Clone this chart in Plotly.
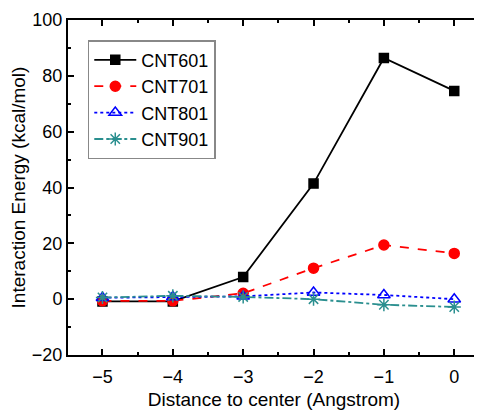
import plotly.graph_objects as go

x = [-5, -4, -3, -2, -1, 0]
cnt601 = [-0.8, -0.8, 7.9, 41.4, 86.4, 74.6]
cnt701 = [-0.6, -0.6, 2.1, 11.1, 19.4, 16.4]
cnt801 = [0.5, 0.8, 1.0, 2.4, 1.5, 0.0]
cnt901 = [0.6, 1.2, 0.8, 0.0, -2.0, -2.8]

series = [
    ("CNT601", cnt601, "black", "solid", "square", 9),
    ("CNT701", cnt701, "red", "dash", "circle", 10),
    ("CNT801", cnt801, "blue", "dot", "triangle-up-open", 11),
    ("CNT901", cnt901, "#2a8f8f", "dashdot", "asterisk-open", 11),
]

fig = go.Figure()
for name, y, c, dash, sym, sz in series:
    fig.add_trace(go.Scatter(
        x=x, y=y, name=name, mode="lines+markers",
        line=dict(color=c, dash=dash, width=1.8),
        marker=dict(symbol=sym, size=sz, color=c, line=dict(color=c, width=1.5)),
    ))

# page body has an 8px margin, so the figure is sized/offset to compensate
fig.update_layout(
    width=474, height=402,
    margin=dict(l=60, r=2, t=12, b=55),
    paper_bgcolor="white", plot_bgcolor="white",
    font=dict(family="Liberation Sans, Arial, sans-serif", size=18, color="black"),
    showlegend=True,
    legend=dict(x=0.048, y=0.94, xanchor="left", yanchor="top",
                bordercolor="#888888", borderwidth=1.5, bgcolor="white",
                font=dict(size=18), tracegroupgap=0, itemwidth=42),
)
fig.update_xaxes(
    range=[-5.49, 0.366], tickvals=[-5, -4, -3, -2, -1, 0],
    ticks="inside", ticklen=6, tickwidth=1.5, tickcolor="black",
    tickfont=dict(size=18), ticklabelstandoff=4,
    showline=True, linecolor="black", linewidth=2, mirror="ticks",
    showgrid=False, zeroline=False, automargin=False,
    minor=dict(ticks="inside", ticklen=3, dtick=0.5, tick0=0, tickcolor="black", showgrid=False),
    title=dict(text="Distance to center (Angstrom)", standoff=8, font=dict(size=19)),
)
fig.update_yaxes(
    range=[-20, 100], dtick=20,
    ticks="inside", ticklen=6, tickwidth=1.5, tickcolor="black",
    tickfont=dict(size=18),
    showline=True, linecolor="black", linewidth=2, mirror="ticks",
    showgrid=False, zeroline=False, automargin=False,
    minor=dict(ticks="inside", ticklen=3, dtick=10, tickcolor="black", showgrid=False),
    title=dict(text="Interaction Energy (kcal/mol)", standoff=2, font=dict(size=19)),
)
fig.write_html("out.html")
